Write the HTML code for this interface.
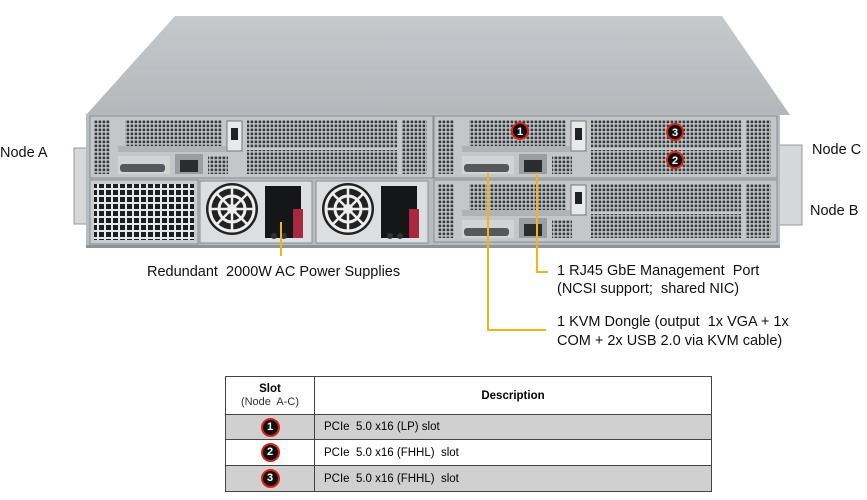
<!DOCTYPE html>
<html><head><meta charset="utf-8"><style>
html,body{margin:0;padding:0;background:#fff;}
body{width:867px;height:500px;position:relative;overflow:hidden;font-family:"Liberation Sans",Arial,sans-serif;}
.t{position:absolute;font-size:14.5px;color:#111;white-space:nowrap;}
table{position:absolute;left:225px;top:376px;width:487px;border-collapse:collapse;font-size:11.5px;}
td{border:1px solid #444;padding:0;}
.m{display:inline-block;width:15px;height:15px;border-radius:50%;background:#111;border:2px solid #d21;color:#fff;font-weight:bold;font-size:11px;line-height:15px;text-align:center;}
</style></head><body>
<svg width="867" height="500" style="position:absolute;left:0;top:0">
<defs>
<pattern id="g" width="4" height="4" patternUnits="userSpaceOnUse"><rect width="4" height="4" fill="#c4c7c9"/><rect x="0.6" y="0.6" width="2.6" height="2.6" fill="#35383b"/></pattern>
<pattern id="gb" width="7" height="7" patternUnits="userSpaceOnUse"><rect width="7" height="7" fill="#e6e7e8"/><rect x="1" y="1" width="5" height="5" fill="#1c1e20"/></pattern>
<linearGradient id="lid" x1="0" y1="0" x2="0" y2="1"><stop offset="0" stop-color="#c6c9cc"/><stop offset="1" stop-color="#b4b8bb"/></linearGradient>
<g id="node">
<rect x="0" y="0" width="343" height="62" fill="#c4c6c8" stroke="#8a8d90"/>
<rect x="4" y="4" width="16" height="54" fill="url(#g)"/>
<rect x="35" y="4" width="97" height="26" fill="url(#g)"/>
<rect x="28" y="30" width="108" height="6" fill="#b0b3b6"/>
<rect x="137" y="5" width="15" height="30" fill="#e8e9ea" stroke="#777"/>
<rect x="141" y="12" width="7" height="12" fill="#222"/>
<rect x="157" y="4" width="150" height="28" fill="url(#g)"/>
<rect x="157" y="34" width="150" height="24" fill="url(#g)"/>
<rect x="312" y="4" width="25" height="54" fill="url(#g)"/>
<rect x="28" y="40" width="52" height="18" fill="#d2d4d6"/>
<rect x="30" y="48" width="45" height="8" rx="3" fill="#55595c"/>
<rect x="85" y="38" width="28" height="20" fill="#9a9ea1"/>
<rect x="90" y="44" width="18" height="12" fill="#2a2c2e"/>
<rect x="118" y="40" width="20" height="18" fill="url(#g)"/>
</g>
<g id="psu">
<rect x="0" y="0" width="112" height="62" fill="#dcdedf" stroke="#8a8d90"/>
<circle cx="32" cy="28" r="26" fill="#222"/>
<circle cx="32" cy="28" r="22" fill="none" stroke="#eee" stroke-width="3"/>
<circle cx="32" cy="28" r="13" fill="none" stroke="#eee" stroke-width="3"/>
<circle cx="32" cy="28" r="5" fill="#eee"/>
<path d="M32 6V50M10 28H54M16 12L48 44M48 12L16 44" stroke="#eee" stroke-width="2.5"/>
<rect x="65" y="5" width="36" height="52" fill="#151617"/>
<rect x="93" y="28" width="10" height="29" fill="#a8283f"/>
<circle cx="74" cy="55" r="3" fill="#333"/><circle cx="84" cy="55" r="3" fill="#333"/>
</g>
</defs>
<polygon points="175,16 722,16 790,115 86,115" fill="url(#lid)"/>
<rect x="74" y="148" width="14" height="76" fill="#d5d7d9" stroke="#999"/>
<rect x="778" y="145" width="24" height="80" fill="#d5d7d9" stroke="#999"/>
<rect x="86" y="114" width="694" height="133" fill="#b9bcbf"/>
<use href="#node" x="90" y="116"/>
<use href="#node" x="434" y="116"/>
<use href="#node" x="434" y="180"/>
<rect x="90" y="180" width="108" height="64" fill="#c9cbcd" stroke="#8a8d90"/>
<rect x="94" y="184" width="100" height="56" fill="url(#gb)"/>
<use href="#psu" x="200" y="181"/>
<use href="#psu" x="316" y="181"/>
<rect x="86" y="245" width="694" height="3" fill="#8f9396"/>
<g stroke="#f2b418" stroke-width="2" fill="none">
<path d="M281 222V256"/>
<path d="M488 173V330H546"/>
<path d="M537 173V272H548"/>
</g>
<g font-family="Liberation Sans,Arial" font-size="11" font-weight="bold" fill="#fff" text-anchor="middle">
<circle cx="520" cy="131" r="8" fill="#111" stroke="#d21" stroke-width="2"/><text x="520" y="135">1</text>
<circle cx="675" cy="132" r="8" fill="#111" stroke="#d21" stroke-width="2"/><text x="675" y="136">3</text>
<circle cx="675" cy="160" r="8" fill="#111" stroke="#d21" stroke-width="2"/><text x="675" y="164">2</text>
</g>
</svg>
<div class="t" style="left:0;top:145px">Node A</div>
<div class="t" style="left:812px;top:142px">Node C</div>
<div class="t" style="left:810px;top:203px">Node B</div>
<div class="t" style="left:147px;top:264px">Redundant&nbsp; 2000W AC Power Supplies</div>
<div class="t" style="left:557px;top:262px;line-height:18px">1 RJ45 GbE Management&nbsp; Port<br>(NCSI support;&nbsp; shared NIC)</div>
<div class="t" style="left:557px;top:313px;line-height:19px">1 KVM Dongle (output&nbsp; 1x VGA + 1x<br>COM + 2x USB 2.0 via KVM cable)</div>
<table>
<tr style="height:38px"><td style="width:88px;text-align:center;line-height:13px"><b>Slot</b><br><span style="font-size:11px;color:#333">(Node&nbsp; A-C)</span></td><td style="text-align:center"><b>Description</b></td></tr>
<tr style="height:25px;background:#d0d0d0"><td style="text-align:center"><span class="m">1</span></td><td style="padding-left:9px">PCIe&nbsp; 5.0 x16 (LP) slot</td></tr>
<tr style="height:26px"><td style="text-align:center"><span class="m">2</span></td><td style="padding-left:9px">PCIe&nbsp; 5.0 x16 (FHHL)&nbsp; slot</td></tr>
<tr style="height:26px;background:#d0d0d0"><td style="text-align:center"><span class="m">3</span></td><td style="padding-left:9px">PCIe&nbsp; 5.0 x16 (FHHL)&nbsp; slot</td></tr>
</table>
</body></html>
